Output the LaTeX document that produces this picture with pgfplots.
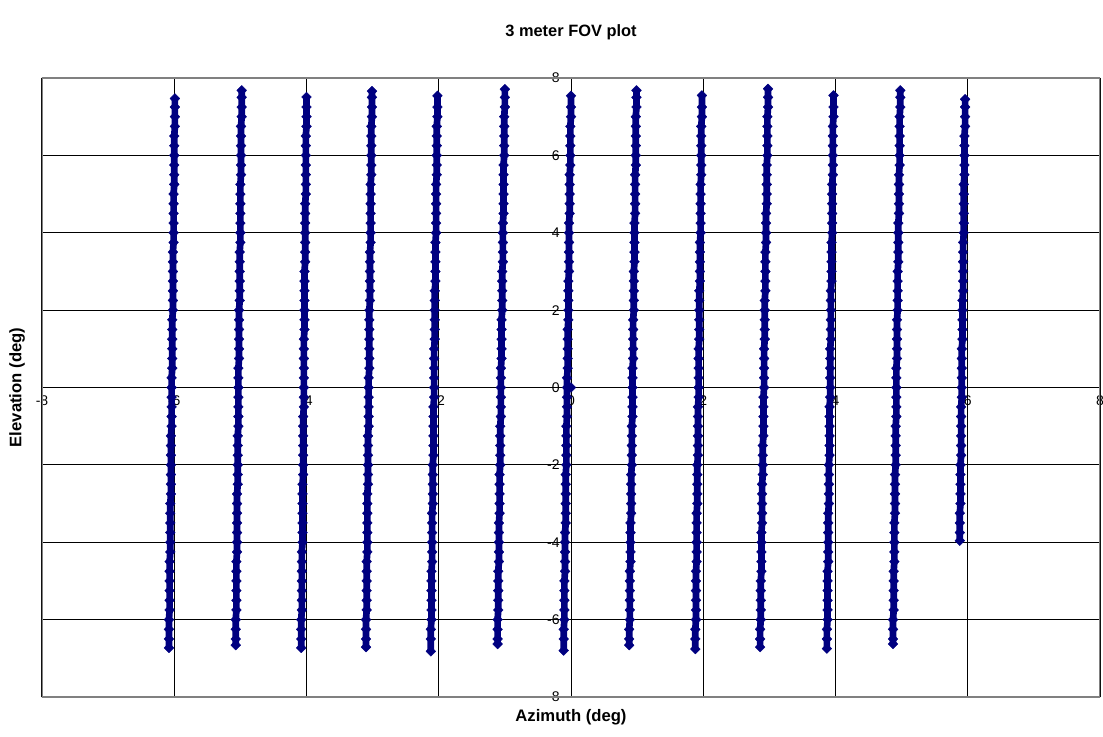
\documentclass[border=0pt]{standalone}
\usepackage{pgfplots}
\pgfplotsset{compat=1.18}
\usepackage{fontspec}
\setmainfont{Liberation Sans}
\definecolor{navy}{RGB}{0,0,128}
\definecolor{framegray}{RGB}{128,128,128}
\pgfplotsset{fovcol/.style={color=navy, line width=5pt, line join=round, mark=square*, mark size=2.6pt, mark options={rotate=45, line width=0.3pt, fill=navy}}}
\begin{document}
\begin{tikzpicture}
\begin{axis}[
 name=ax,
 scale only axis, width=793.5pt, height=464.25pt,
 xmin=-8, xmax=8, ymin=-8, ymax=8,
 enlargelimits=false,
 axis lines=middle,
 axis line style={-, black, line width=0.75pt},
 xtick={-8,-6,...,8}, ytick={-8,-6,...,8},
 hide obscured x ticks=false, hide obscured y ticks=false,
 grid=major, grid style={black, line width=0.75pt},
 tick align=center, major tick length=6pt, tick style={black, line width=0.75pt},
 ticklabel style={font=\fontsize{10.5}{12}\selectfont},
 /pgf/number format/assume math mode=true,
 yticklabel style={xshift=-2pt},
 title={3 meter FOV plot},
 title style={at={(axis description cs:0.5,1.0613)}, anchor=center, font=\bfseries\fontsize{12.3}{14}\selectfont},
 xlabel={Azimuth (deg)},
 xlabel style={at={(axis description cs:0.5,-0.0323)}, anchor=center, font=\bfseries\fontsize{12.5}{14}\selectfont},
 ylabel={Elevation (deg)},
 ylabel style={at={(axis description cs:-0.0236,0.5)}, anchor=center, rotate=90, font=\bfseries\fontsize{12.5}{14}\selectfont},
]
\draw[framegray, line width=1.5pt] (rel axis cs:0,0) rectangle (rel axis cs:1,1);
% column near -6
\addplot[fovcol] coordinates {(-6.08,-6.73)(-6.08,-6.5)(-6.08,-6.25)(-6.08,-6)
(-6.07,-5.75)(-6.07,-5.5)(-6.07,-5.25)(-6.07,-5)(-6.07,-4.75)(-6.07,-4.5)
(-6.06,-4.25)(-6.06,-4)(-6.06,-3.75)(-6.06,-3.5)(-6.06,-3.25)(-6.06,-3)
(-6.05,-2.75)(-6.05,-2.5)(-6.05,-2.25)(-6.05,-2)(-6.05,-1.75)(-6.05,-1.5)(-6.05,-1.25)
(-6.04,-1)(-6.04,-0.75)(-6.04,-0.5)(-6.04,-0.25)(-6.04,0)(-6.04,0.25)
(-6.03,0.5)(-6.03,0.75)(-6.03,1)(-6.03,1.25)(-6.03,1.5)(-6.03,1.75)
(-6.02,2)(-6.02,2.25)(-6.02,2.5)(-6.02,2.75)(-6.02,3)(-6.02,3.25)(-6.02,3.5)
(-6.01,3.75)(-6.01,4)(-6.01,4.25)(-6.01,4.5)(-6.01,4.75)(-6.01,5)
(-6.00,5.25)(-6.00,5.5)(-6.00,5.75)(-6.00,6)(-6.00,6.25)(-6.00,6.5)
(-5.99,6.75)(-5.99,7)(-5.99,7.25)(-5.99,7.47)};
% column near -5
\addplot[fovcol] coordinates {(-5.07,-6.66)(-5.07,-6.5)(-5.07,-6.25)(-5.07,-6)
(-5.06,-5.75)(-5.06,-5.5)(-5.06,-5.25)(-5.06,-5)(-5.06,-4.75)(-5.06,-4.5)
(-5.05,-4.25)(-5.05,-4)(-5.05,-3.75)(-5.05,-3.5)(-5.05,-3.25)(-5.05,-3)(-5.05,-2.75)
(-5.04,-2.5)(-5.04,-2.25)(-5.04,-2)(-5.04,-1.75)(-5.04,-1.5)(-5.04,-1.25)
(-5.03,-1)(-5.03,-0.75)(-5.03,-0.5)(-5.03,-0.25)(-5.03,0)(-5.03,0.25)(-5.03,0.5)
(-5.02,0.75)(-5.02,1)(-5.02,1.25)(-5.02,1.5)(-5.02,1.75)(-5.02,2)
(-5.01,2.25)(-5.01,2.5)(-5.01,2.75)(-5.01,3)(-5.01,3.25)(-5.01,3.5)
(-5.00,3.75)(-5.00,4)(-5.00,4.25)(-5.00,4.5)(-5.00,4.75)(-5.00,5)(-5.00,5.25)
(-4.99,5.5)(-4.99,5.75)(-4.99,6)(-4.99,6.25)(-4.99,6.5)(-4.99,6.75)
(-4.98,7)(-4.98,7.25)(-4.98,7.5)(-4.98,7.68)};
% column near -4
\addplot[fovcol] coordinates {(-4.08,-6.73)(-4.08,-6.5)(-4.08,-6.25)(-4.08,-6)
(-4.07,-5.75)(-4.07,-5.5)(-4.07,-5.25)(-4.07,-5)(-4.07,-4.75)(-4.07,-4.5)(-4.07,-4.25)
(-4.06,-4)(-4.06,-3.75)(-4.06,-3.5)(-4.06,-3.25)(-4.06,-3)(-4.06,-2.75)(-4.06,-2.5)
(-4.05,-2.25)(-4.05,-2)(-4.05,-1.75)(-4.05,-1.5)(-4.05,-1.25)(-4.05,-1)(-4.05,-0.75)
(-4.04,-0.5)(-4.04,-0.25)(-4.04,0)(-4.04,0.25)(-4.04,0.5)(-4.04,0.75)(-4.04,1)(-4.04,1.25)
(-4.03,1.5)(-4.03,1.75)(-4.03,2)(-4.03,2.25)(-4.03,2.5)(-4.03,2.75)(-4.03,3)
(-4.02,3.25)(-4.02,3.5)(-4.02,3.75)(-4.02,4)(-4.02,4.25)(-4.02,4.5)(-4.02,4.75)
(-4.01,5)(-4.01,5.25)(-4.01,5.5)(-4.01,5.75)(-4.01,6)(-4.01,6.25)(-4.01,6.5)
(-4.00,6.75)(-4.00,7)(-4.00,7.25)(-4.00,7.51)};
% column near -3
\addplot[fovcol] coordinates {(-3.10,-6.71)(-3.10,-6.5)(-3.10,-6.25)(-3.10,-6)
(-3.09,-5.75)(-3.09,-5.5)(-3.09,-5.25)(-3.09,-5)(-3.09,-4.75)(-3.09,-4.5)
(-3.08,-4.25)(-3.08,-4)(-3.08,-3.75)(-3.08,-3.5)(-3.08,-3.25)(-3.08,-3)(-3.08,-2.75)
(-3.07,-2.5)(-3.07,-2.25)(-3.07,-2)(-3.07,-1.75)(-3.07,-1.5)(-3.07,-1.25)
(-3.06,-1)(-3.06,-0.75)(-3.06,-0.5)(-3.06,-0.25)(-3.06,0)(-3.06,0.25)
(-3.05,0.5)(-3.05,0.75)(-3.05,1)(-3.05,1.25)(-3.05,1.5)(-3.05,1.75)(-3.05,2)
(-3.04,2.25)(-3.04,2.5)(-3.04,2.75)(-3.04,3)(-3.04,3.25)(-3.04,3.5)
(-3.03,3.75)(-3.03,4)(-3.03,4.25)(-3.03,4.5)(-3.03,4.75)(-3.03,5)(-3.03,5.25)
(-3.02,5.5)(-3.02,5.75)(-3.02,6)(-3.02,6.25)(-3.02,6.5)(-3.02,6.75)
(-3.01,7)(-3.01,7.25)(-3.01,7.5)(-3.01,7.66)};
% column near -2
\addplot[fovcol] coordinates {(-2.12,-6.82)(-2.12,-6.5)(-2.12,-6.25)
(-2.11,-6)(-2.11,-5.75)(-2.11,-5.5)(-2.11,-5.25)(-2.11,-5)(-2.11,-4.75)
(-2.10,-4.5)(-2.10,-4.25)(-2.10,-4)(-2.10,-3.75)(-2.10,-3.5)(-2.10,-3.25)
(-2.09,-3)(-2.09,-2.75)(-2.09,-2.5)(-2.09,-2.25)(-2.09,-2)
(-2.08,-1.75)(-2.08,-1.5)(-2.08,-1.25)(-2.08,-1)(-2.08,-0.75)(-2.08,-0.5)
(-2.07,-0.25)(-2.07,0)(-2.07,0.25)(-2.07,0.5)(-2.07,0.75)(-2.07,1)
(-2.06,1.25)(-2.06,1.5)(-2.06,1.75)(-2.06,2)(-2.06,2.25)(-2.06,2.5)
(-2.05,2.75)(-2.05,3)(-2.05,3.25)(-2.05,3.5)(-2.05,3.75)
(-2.04,4)(-2.04,4.25)(-2.04,4.5)(-2.04,4.75)(-2.04,5)(-2.04,5.25)
(-2.03,5.5)(-2.03,5.75)(-2.03,6)(-2.03,6.25)(-2.03,6.5)(-2.03,6.75)
(-2.02,7)(-2.02,7.25)(-2.02,7.54)};
% column near -1
\addplot[fovcol] coordinates {(-1.11,-6.63)(-1.11,-6.5)(-1.11,-6.25)(-1.11,-6)
(-1.10,-5.75)(-1.10,-5.5)(-1.10,-5.25)(-1.10,-5)(-1.10,-4.75)
(-1.09,-4.5)(-1.09,-4.25)(-1.09,-4)(-1.09,-3.75)(-1.09,-3.5)
(-1.08,-3.25)(-1.08,-3)(-1.08,-2.75)(-1.08,-2.5)(-1.08,-2.25)
(-1.07,-2)(-1.07,-1.75)(-1.07,-1.5)(-1.07,-1.25)(-1.07,-1)
(-1.06,-0.75)(-1.06,-0.5)(-1.06,-0.25)(-1.06,0)(-1.06,0.25)(-1.06,0.5)
(-1.05,0.75)(-1.05,1)(-1.05,1.25)(-1.05,1.5)(-1.05,1.75)
(-1.04,2)(-1.04,2.25)(-1.04,2.5)(-1.04,2.75)(-1.04,3)
(-1.03,3.25)(-1.03,3.5)(-1.03,3.75)(-1.03,4)(-1.03,4.25)
(-1.02,4.5)(-1.02,4.75)(-1.02,5)(-1.02,5.25)(-1.02,5.5)(-1.02,5.75)
(-1.01,6)(-1.01,6.25)(-1.01,6.5)(-1.01,6.75)(-1.01,7)
(-1.00,7.25)(-1.00,7.5)(-1.00,7.71)};
% column near 0
\addplot[fovcol] coordinates {(-0.11,-6.8)(-0.11,-6.5)(-0.11,-6.25)
(-0.10,-6)(-0.10,-5.75)(-0.10,-5.5)(-0.10,-5.25)(-0.10,-5)
(-0.09,-4.75)(-0.09,-4.5)(-0.09,-4.25)(-0.09,-4)(-0.09,-3.75)
(-0.08,-3.5)(-0.08,-3.25)(-0.08,-3)(-0.08,-2.75)(-0.08,-2.5)(-0.08,-2.25)
(-0.07,-2)(-0.07,-1.75)(-0.07,-1.5)(-0.07,-1.25)(-0.07,-1)
(-0.06,-0.75)(-0.06,-0.5)(-0.06,-0.25)(-0.06,0)(-0.06,0.25)
(-0.05,0.5)(-0.05,0.75)(-0.05,1)(-0.05,1.25)(-0.05,1.5)
(-0.04,1.75)(-0.04,2)(-0.04,2.25)(-0.04,2.5)(-0.04,2.75)
(-0.03,3)(-0.03,3.25)(-0.03,3.5)(-0.03,3.75)(-0.03,4)(-0.03,4.25)
(-0.02,4.5)(-0.02,4.75)(-0.02,5)(-0.02,5.25)(-0.02,5.5)
(-0.01,5.75)(-0.01,6)(-0.01,6.25)(-0.01,6.5)(-0.01,6.75)
(0.00,7)(0.00,7.25)(0.00,7.54)};
% column near 1
\addplot[fovcol] coordinates {(0.88,-6.66)(0.88,-6.5)(0.88,-6.25)
(0.89,-6)(0.89,-5.75)(0.89,-5.5)(0.89,-5.25)(0.89,-5)(0.89,-4.75)
(0.90,-4.5)(0.90,-4.25)(0.90,-4)(0.90,-3.75)(0.90,-3.5)
(0.91,-3.25)(0.91,-3)(0.91,-2.75)(0.91,-2.5)(0.91,-2.25)
(0.92,-2)(0.92,-1.75)(0.92,-1.5)(0.92,-1.25)(0.92,-1)
(0.93,-0.75)(0.93,-0.5)(0.93,-0.25)(0.93,0)(0.93,0.25)(0.93,0.5)
(0.94,0.75)(0.94,1)(0.94,1.25)(0.94,1.5)(0.94,1.75)
(0.95,2)(0.95,2.25)(0.95,2.5)(0.95,2.75)(0.95,3)
(0.96,3.25)(0.96,3.5)(0.96,3.75)(0.96,4)(0.96,4.25)
(0.97,4.5)(0.97,4.75)(0.97,5)(0.97,5.25)(0.97,5.5)
(0.98,5.75)(0.98,6)(0.98,6.25)(0.98,6.5)(0.98,6.75)(0.98,7)
(0.99,7.25)(0.99,7.5)(0.99,7.68)};
% column near 2
\addplot[fovcol] coordinates {(1.88,-6.76)(1.88,-6.5)(1.88,-6.25)
(1.89,-6)(1.89,-5.75)(1.89,-5.5)(1.89,-5.25)(1.89,-5)(1.89,-4.75)
(1.90,-4.5)(1.90,-4.25)(1.90,-4)(1.90,-3.75)(1.90,-3.5)(1.90,-3.25)
(1.91,-3)(1.91,-2.75)(1.91,-2.5)(1.91,-2.25)(1.91,-2)
(1.92,-1.75)(1.92,-1.5)(1.92,-1.25)(1.92,-1)(1.92,-0.75)(1.92,-0.5)
(1.93,-0.25)(1.93,0)(1.93,0.25)(1.93,0.5)(1.93,0.75)(1.93,1)
(1.94,1.25)(1.94,1.5)(1.94,1.75)(1.94,2)(1.94,2.25)(1.94,2.5)
(1.95,2.75)(1.95,3)(1.95,3.25)(1.95,3.5)(1.95,3.75)
(1.96,4)(1.96,4.25)(1.96,4.5)(1.96,4.75)(1.96,5)(1.96,5.25)
(1.97,5.5)(1.97,5.75)(1.97,6)(1.97,6.25)(1.97,6.5)(1.97,6.75)
(1.98,7)(1.98,7.25)(1.98,7.55)};
% column near 3
\addplot[fovcol] coordinates {(2.86,-6.71)(2.86,-6.5)(2.86,-6.25)
(2.87,-6)(2.87,-5.75)(2.87,-5.5)(2.87,-5.25)(2.87,-5)
(2.88,-4.75)(2.88,-4.5)(2.88,-4.25)(2.88,-4)(2.88,-3.75)
(2.89,-3.5)(2.89,-3.25)(2.89,-3)(2.89,-2.75)(2.89,-2.5)
(2.90,-2.25)(2.90,-2)(2.90,-1.75)(2.90,-1.5)
(2.91,-1.25)(2.91,-1)(2.91,-0.75)(2.91,-0.5)(2.91,-0.25)
(2.92,0)(2.92,0.25)(2.92,0.5)(2.92,0.75)(2.92,1)
(2.93,1.25)(2.93,1.5)(2.93,1.75)(2.93,2)(2.93,2.25)
(2.94,2.5)(2.94,2.75)(2.94,3)(2.94,3.25)(2.94,3.5)
(2.95,3.75)(2.95,4)(2.95,4.25)(2.95,4.5)
(2.96,4.75)(2.96,5)(2.96,5.25)(2.96,5.5)(2.96,5.75)
(2.97,6)(2.97,6.25)(2.97,6.5)(2.97,6.75)(2.97,7)
(2.98,7.25)(2.98,7.5)(2.98,7.72)};
% column near 4
\addplot[fovcol] coordinates {(3.87,-6.75)(3.87,-6.5)(3.87,-6.25)
(3.88,-6)(3.88,-5.75)(3.88,-5.5)(3.88,-5.25)(3.88,-5)(3.88,-4.75)
(3.89,-4.5)(3.89,-4.25)(3.89,-4)(3.89,-3.75)(3.89,-3.5)(3.89,-3.25)
(3.90,-3)(3.90,-2.75)(3.90,-2.5)(3.90,-2.25)(3.90,-2)
(3.91,-1.75)(3.91,-1.5)(3.91,-1.25)(3.91,-1)(3.91,-0.75)(3.91,-0.5)
(3.92,-0.25)(3.92,0)(3.92,0.25)(3.92,0.5)(3.92,0.75)(3.92,1)
(3.93,1.25)(3.93,1.5)(3.93,1.75)(3.93,2)(3.93,2.25)(3.93,2.5)
(3.94,2.75)(3.94,3)(3.94,3.25)(3.94,3.5)(3.94,3.75)
(3.95,4)(3.95,4.25)(3.95,4.5)(3.95,4.75)(3.95,5)(3.95,5.25)
(3.96,5.5)(3.96,5.75)(3.96,6)(3.96,6.25)(3.96,6.5)(3.96,6.75)
(3.97,7)(3.97,7.25)(3.97,7.55)};
% column near 5
\addplot[fovcol] coordinates {(4.87,-6.63)(4.87,-6.5)(4.87,-6.25)(4.87,-6)
(4.88,-5.75)(4.88,-5.5)(4.88,-5.25)(4.88,-5)(4.88,-4.75)
(4.89,-4.5)(4.89,-4.25)(4.89,-4)(4.89,-3.75)(4.89,-3.5)
(4.90,-3.25)(4.90,-3)(4.90,-2.75)(4.90,-2.5)(4.90,-2.25)
(4.91,-2)(4.91,-1.75)(4.91,-1.5)(4.91,-1.25)(4.91,-1)
(4.92,-0.75)(4.92,-0.5)(4.92,-0.25)(4.92,0)(4.92,0.25)(4.92,0.5)
(4.93,0.75)(4.93,1)(4.93,1.25)(4.93,1.5)(4.93,1.75)
(4.94,2)(4.94,2.25)(4.94,2.5)(4.94,2.75)(4.94,3)
(4.95,3.25)(4.95,3.5)(4.95,3.75)(4.95,4)(4.95,4.25)
(4.96,4.5)(4.96,4.75)(4.96,5)(4.96,5.25)(4.96,5.5)
(4.97,5.75)(4.97,6)(4.97,6.25)(4.97,6.5)(4.97,6.75)(4.97,7)
(4.98,7.25)(4.98,7.5)(4.98,7.68)};
% column near 6
\addplot[fovcol] coordinates {(5.88,-3.96)(5.88,-3.75)(5.88,-3.5)(5.88,-3.25)
(5.89,-3)(5.89,-2.75)(5.89,-2.5)(5.89,-2.25)(5.89,-2)
(5.90,-1.75)(5.90,-1.5)(5.90,-1.25)(5.90,-1)(5.90,-0.75)(5.90,-0.5)
(5.91,-0.25)(5.91,0)(5.91,0.25)(5.91,0.5)(5.91,0.75)(5.91,1)
(5.92,1.25)(5.92,1.5)(5.92,1.75)(5.92,2)(5.92,2.25)
(5.93,2.5)(5.93,2.75)(5.93,3)(5.93,3.25)(5.93,3.5)(5.93,3.75)
(5.94,4)(5.94,4.25)(5.94,4.5)(5.94,4.75)(5.94,5)(5.94,5.25)
(5.95,5.5)(5.95,5.75)(5.95,6)(5.95,6.25)(5.95,6.5)
(5.96,6.75)(5.96,7)(5.96,7.25)(5.96,7.45)};
% single point at the origin
\addplot[fovcol, only marks] coordinates {(0,0)};
\end{axis}
\pgfresetboundingbox
\path ([shift={(-31.5pt,-29.25pt)}]ax.south west) rectangle ([shift={(2.25pt,58.5pt)}]ax.north east);
\end{tikzpicture}
\end{document}
